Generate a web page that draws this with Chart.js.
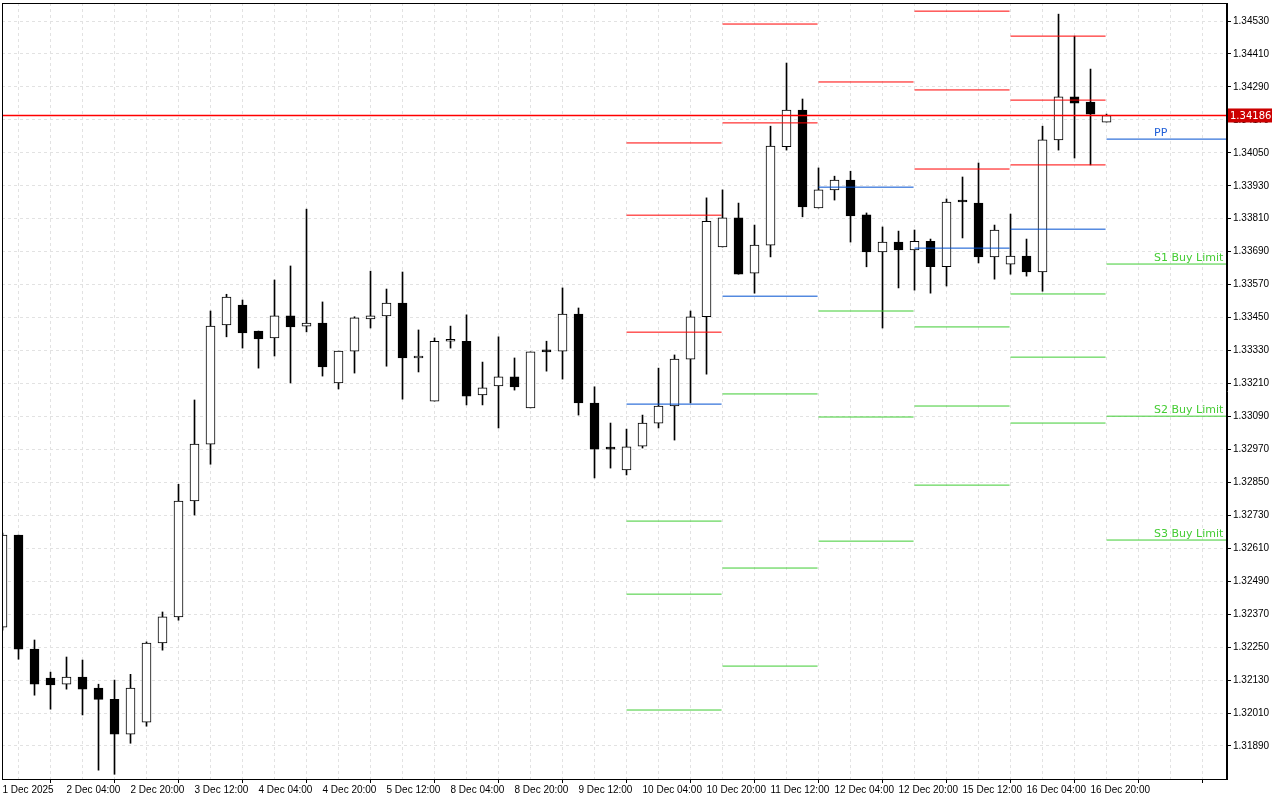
<!DOCTYPE html>
<html><head><meta charset="utf-8">
<script src="https://cdn.jsdelivr.net/npm/chart.js@4"></script>
<style>html,body{margin:0;padding:0;background:#fff;}canvas{display:block;}</style>
</head><body>
<canvas id="c" width="1280" height="800"></canvas>
<script>
const opens=[1.32323,1.32658,1.32243,1.32137,1.32115,1.32141,1.32101,1.32060,1.31933,1.31977,
1.32265,1.32360,1.32782,1.32989,1.33423,1.33496,1.33401,1.33376,1.33456,1.33419,
1.33430,1.33212,1.33328,1.33445,1.33456,1.33503,1.33303,1.33146,1.33364,1.33364,
1.33168,1.33201,1.33234,1.33121,1.33328,1.33328,1.33463,1.33139,1.32975,1.32895,
1.32982,1.33066,1.33128,1.33299,1.33453,1.33707,1.33813,1.33612,1.33714,1.34072,
1.34206,1.33849,1.33915,1.33951,1.33824,1.33689,1.33725,1.33696,1.33728,1.33635,
1.33875,1.33867,1.33671,1.33645,1.33674,1.33616,1.34097,1.34254,1.34235,1.34162];
const highs=[1.32665,1.32658,1.32276,1.32159,1.32214,1.32203,1.32115,1.32130,1.32151,1.32269,
1.32378,1.32843,1.33150,1.33474,1.33535,1.33514,1.33401,1.33587,1.33638,1.33845,
1.33507,1.33328,1.33453,1.33619,1.33554,1.33616,1.33405,1.33376,1.33419,1.33460,
1.33288,1.33380,1.33303,1.33325,1.33364,1.33558,1.33485,1.33198,1.33066,1.33044,
1.33095,1.33266,1.33314,1.33474,1.33886,1.33915,1.33867,1.33787,1.34147,1.34377,
1.34246,1.33995,1.33965,1.33983,1.33831,1.33780,1.33765,1.33769,1.33736,1.33882,
1.33962,1.34013,1.33787,1.33827,1.33736,1.34147,1.34555,1.34475,1.34355,1.34191];
const lows=[1.32312,1.32206,1.32075,1.32024,1.32097,1.32003,1.31802,1.31787,1.31900,1.31962,
1.32239,1.32348,1.32731,1.32916,1.33380,1.33339,1.33266,1.33310,1.33212,1.33398,
1.33237,1.33190,1.33248,1.33412,1.33273,1.33153,1.33252,1.33146,1.33339,1.33132,
1.33132,1.33048,1.33186,1.33121,1.33255,1.33226,1.33095,1.32866,1.32902,1.32877,
1.32975,1.33048,1.33004,1.33139,1.33244,1.33707,1.33608,1.33539,1.33671,1.34060,
1.33817,1.33849,1.33878,1.33725,1.33635,1.33412,1.33558,1.33550,1.33539,1.33565,
1.33740,1.33649,1.33590,1.33608,1.33601,1.33546,1.34060,1.34031,1.34006,1.34162];
const closes=[1.32658,1.32243,1.32115,1.32112,1.32141,1.32097,1.32060,1.31933,1.32101,1.32265,
1.32360,1.32782,1.32989,1.33419,1.33525,1.33394,1.33372,1.33456,1.33416,1.33430,
1.33270,1.33328,1.33449,1.33456,1.33503,1.33303,1.33303,1.33364,1.33364,1.33164,
1.33194,1.33234,1.33198,1.33325,1.33325,1.33463,1.33139,1.32971,1.32971,1.32979,
1.33066,1.33128,1.33299,1.33453,1.33801,1.33813,1.33608,1.33714,1.34075,1.34206,
1.33853,1.33915,1.33951,1.33820,1.33689,1.33725,1.33696,1.33728,1.33635,1.33871,
1.33871,1.33671,1.33769,1.33674,1.33616,1.34097,1.34254,1.34231,1.34191,1.34186];

const xLabels=['1 Dec 2025','2 Dec 04:00','2 Dec 20:00','3 Dec 12:00','4 Dec 04:00','4 Dec 20:00',
'5 Dec 12:00','8 Dec 04:00','8 Dec 20:00','9 Dec 12:00','10 Dec 04:00','10 Dec 20:00',
'11 Dec 12:00','12 Dec 04:00','12 Dec 20:00','15 Dec 12:00','16 Dec 04:00','16 Dec 20:00'];
const yTicks=[1.31890,1.32010,1.32130,1.32250,1.32370,1.32490,1.32610,1.32730,1.32850,1.32970,
1.33090,1.33210,1.33330,1.33450,1.33570,1.33690,1.33810,1.33930,1.34050,1.34170,1.34290,1.34410,1.34530];

const dayStart=[39,45,51,57,63,69];
const dayEnd=[44.94,50.94,56.94,62.94,68.94,76.6];
const r3=[1.34086,null,null,1.34566,1.34475,null];
const r2=[1.33823,1.34519,null,1.34279,1.34242,null];
const r1=[1.33397,1.34159,1.34308,1.33991,1.34006,null];
const pp=[1.33135,1.33528,1.33925,1.33703,1.33772,1.34100];
const s1=[1.32709,1.33172,1.33474,1.33416,1.33536,1.33645];
const s2=[1.32443,1.32538,1.33088,1.33128,1.33306,1.33091];
const s3=[1.32021,1.32181,1.32636,1.32840,1.33066,1.32640];
const lastLabels=[['PP',pp,'#1f5fd8'],['S1 Buy Limit',s1,'#44cc33'],['S2 Buy Limit',s2,'#44cc33'],['S3 Buy Limit',s3,'#44cc33']];
const currentPrice=1.34186;

const RED='#ff0000', BLUE='#0050d0', GREEN='#3fcc33';
const X_MIN=-0.03125, X_MAX=76.53;
const datasets=[];
datasets.push({type:'bar',label:'wicks',order:3,grouped:false,barThickness:1,
  data:highs.map((h,i)=>({x:i,y:[lows[i],h]})),backgroundColor:'#000',borderWidth:0});
datasets.push({type:'bar',label:'bodies',order:2,grouped:false,barThickness:9,minBarLength:2,
  data:opens.map((o,i)=>({x:i,y:[o,closes[i]]})),
  backgroundColor:opens.map((o,i)=>closes[i]<o?'#000':'#fff'),
  borderColor:'#000',borderWidth:1,borderSkipped:false});
function addLevels(arr,color){
  arr.forEach((v,d)=>{ if(v===null) return;
    datasets.push({type:'line',order:1,data:[{x:dayStart[d],y:v},{x:dayEnd[d],y:v}],
      borderColor:color,borderWidth:1,pointRadius:0,fill:false});
  });
}
addLevels(r3,RED);addLevels(r2,RED);addLevels(r1,RED);addLevels(pp,BLUE);
addLevels(s1,GREEN);addLevels(s2,GREEN);addLevels(s3,GREEN);
datasets.push({type:'line',order:0,data:[{x:X_MIN,y:currentPrice},{x:X_MAX,y:currentPrice}],
  borderColor:'#ff0000',backgroundColor:'#ff0000',borderWidth:1.3,pointRadius:0,fill:false});

const extras={id:'extras',
  afterDraw(chart){
    const {ctx,chartArea:a,scales:{x,y}}=chart;
    ctx.save();
    ctx.setLineDash([]);
    ctx.strokeStyle='#000';ctx.lineWidth=1;
    ctx.strokeRect(a.left+0.5,a.top+0.5,a.right-a.left-1,a.bottom-a.top);
    ctx.font='11px "DejaVu Sans", sans-serif';ctx.textBaseline='alphabetic';ctx.textAlign='left';
    lastLabels.forEach(([t,arr,c])=>{ctx.fillStyle=c;ctx.fillText(t,1154,y.getPixelForValue(arr[5])-3);});
    const py=y.getPixelForValue(currentPrice);
    ctx.fillStyle='#cc0000';ctx.fillRect(1228,py-7,44,14);
    ctx.fillStyle='#fff';ctx.font='10px "DejaVu Sans", sans-serif';ctx.textBaseline='middle';
    ctx.fillText(currentPrice.toFixed(5),1230,py+0.5);
    ctx.restore();
  }};

new Chart(document.getElementById('c'),{
  data:{datasets},
  options:{responsive:false,animation:false,devicePixelRatio:1,
    layout:{padding:{left:2,top:3,right:0,bottom:0}},
    plugins:{legend:{display:false},tooltip:{enabled:false}},
    scales:{
      x:{type:'linear',min:X_MIN,max:X_MAX,offset:false,
        afterBuildTicks(s){const t=[];for(let i=0;i<=76;i+=2)t.push({value:i});s.ticks=t;},
        afterFit(s){s.height=21;s.paddingLeft=0;s.paddingRight=0;},
        ticks:{autoSkip:false,maxRotation:0,align:'start',padding:1,color:'#000',
          font:{family:'Liberation Sans',size:10},
          callback:(v)=>(v%4===0&&xLabels[v/4])?xLabels[v/4]:''},
        grid:{color:'#e2e2e2',tickLength:4,
          tickColor:(c)=>(c.tick&&c.tick.value%4===0)?'#000':'rgba(0,0,0,0)'},
        border:{display:true,color:'#000',dash:[3,3]}},
      y:{type:'linear',position:'right',min:1.317698,max:1.345956,
        afterBuildTicks(s){s.ticks=yTicks.map(v=>({value:v}));},
        afterFit(s){s.width=53;s.paddingTop=0;s.paddingBottom=0;},
        ticks:{color:'#000',padding:2,font:{family:'Liberation Sans',size:10},callback:(v)=>Number(v).toFixed(5)},
        grid:{color:'#e2e2e2',tickLength:4,tickColor:'#000'},
        border:{display:true,color:'#000',dash:[3,3]}}
    }},
  plugins:[extras]
});
</script>
</body></html>
